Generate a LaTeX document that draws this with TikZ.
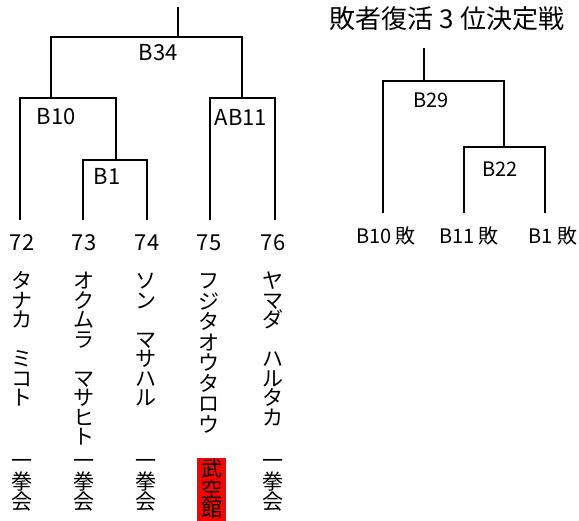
\documentclass[tikz,border=0pt]{standalone}
\usepackage{fontspec}
\setmainfont{Noto Sans CJK JP}
\begin{document}
\begin{tikzpicture}[x=1pt,y=-1pt,
  br/.style={line width=2pt, line cap=butt, line join=miter},
  lbl/.style={font=\fontsize{22}{24}\selectfont, inner sep=0},
  lblr/.style={font=\fontsize{20}{22}\selectfont, inner sep=0},
  ttl/.style={font=\fontsize{26}{28}\selectfont, inner sep=0},
  ch/.style={font=\fontsize{21}{22}\selectfont, inner sep=0, text height=18.5pt, text depth=2.5pt},
  redbox/.style={fill=red, inner sep=0, minimum width=29pt, minimum height=66pt}]
\useasboundingbox (0,0) rectangle (579,521);

% ---------- left bracket ----------
\coordinate (top) at (178,7);
\coordinate (m34) at (178,37);
\coordinate (m10) at (51,98);
\coordinate (m11) at (242,98);
\coordinate (m1) at (116,160);
\coordinate (t72) at (20,220);
\coordinate (t73) at (83,220);
\coordinate (t74) at (147,220);
\coordinate (t75) at (210,220);
\coordinate (t76) at (275,220);

\draw[br] (t73) |- (m1) -| (t74);
\draw[br] (t72) |- (m10) -| (m1);
\draw[br] (t75) |- (m11) -| (t76);
\draw[br] (m10) |- (m34) -| (m11);
\draw[br] (m34) -- (top);

\node[lbl] (lB34) at (158,53) {B34};
\node[lbl] (lB10) at (56,117) {B10};
\node[lbl] (lAB11) at (241,117) {AB11};
\node[lbl] (lB1) at (107,176) {B1};

\node[lbl] (n72) at (22,243) {72};
\node[lbl] (n73) at (84,243) {73};
\node[lbl] (n74) at (147,243) {74};
\node[lbl] (n75) at (209,243) {75};
\node[lbl] (n76) at (273,243) {76};

% vertical names
\foreach \c [count=\i] in {タ,ナ,カ,,ミ,コ,ト}
  \node[ch] (a\i) at (22,{281+19.5*(\i-1)}) {\c};
\foreach \c [count=\i] in {オ,ク,ム,ラ,,マ,サ,ヒ,ト}
  \node[ch] (b\i) at (84,{281+19.5*(\i-1)}) {\c};
\foreach \c [count=\i] in {ソ,ン,,マ,サ,ハ,ル}
  \node[ch] (c\i) at (146,{281+19.5*(\i-1)}) {\c};
\foreach \c [count=\i] in {フ,ジ,タ,オ,ウ,タ,ロ,ウ}
  \node[ch] (d\i) at (209,{281+20.5*(\i-1)}) {\c};
\foreach \c [count=\i] in {ヤ,マ,ダ,,ハ,ル,タ,カ}
  \node[ch] (e\i) at (273,{281+19.5*(\i-1)}) {\c};

% affiliations
\foreach \x/\n in {22/a,84/b,146/c,273/e}
  \foreach \c [count=\i] in {一,拳,会}
    \node[ch] (\n k\i) at (\x,{461+20.5*(\i-1)}) {\c};
\node[redbox] (rb) at (211.5,491) {};
\foreach \c [count=\i] in {武,空,館}
  \node[ch] (dk\i) at (211.5,{469+20*(\i-1)}) {\c};

% ---------- right bracket ----------
\node[ttl] (title) at (447,19) {敗者復活 3 位決定戦};

\coordinate (rtop) at (424,48);
\coordinate (m29) at (424,81);
\coordinate (m22) at (504,147);
\coordinate (s10) at (383,213);
\coordinate (s11) at (464,213);
\coordinate (s1) at (545,213);

\draw[br] (s11) |- (m22) -| (s1);
\draw[br] (s10) |- (m29) -| (m22);
\draw[br] (m29) -- (rtop);

\node[lblr] (lB29) at (431,100) {B29};
\node[lblr] (lB22) at (500,169) {B22};

\node[lblr] (r10) at (386,236) {B10 敗};
\node[lblr] (r11) at (469,236) {B11 敗};
\node[lblr] (r1) at (553,236) {B1 敗};
\end{tikzpicture}
\end{document}
